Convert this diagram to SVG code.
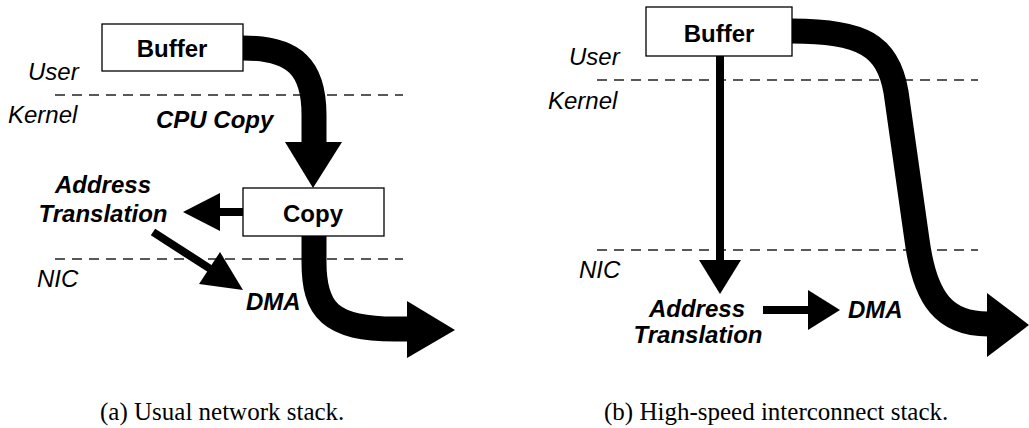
<svg xmlns="http://www.w3.org/2000/svg" width="1029" height="428" viewBox="0 0 1029 428">
<style>
.box{fill:#fff;stroke:#000;stroke-width:1.3}
.bl{font-family:"Liberation Sans",Arial,sans-serif;font-weight:bold;font-size:24px;text-anchor:middle;fill:#000}
.lay{font-family:"Liberation Sans",Arial,sans-serif;font-style:italic;font-size:24px;fill:#000}
.op{font-family:"Liberation Sans",Arial,sans-serif;font-style:italic;font-weight:bold;font-size:24px;fill:#000}
.dash{stroke:#222;stroke-width:1.3;stroke-dasharray:10 7;fill:none}
.thick{fill:none;stroke:#000;stroke-width:25}
.thin{fill:none;stroke:#000;stroke-width:8}
.head{fill:#000}
.cap{font-family:"Liberation Serif","Times New Roman",serif;font-size:25px;fill:#000}
</style>
<rect width="1029" height="428" fill="#fff"/>

<g id="layers">
<line class="dash" x1="55" y1="95" x2="403" y2="95"/>
<line class="dash" x1="55" y1="259" x2="403" y2="259"/>
<text class="lay" x="28" y="80">User</text>
<text class="lay" x="8" y="123">Kernel</text>
<text class="lay" x="37" y="287">NIC</text>
<line class="dash" x1="597" y1="80" x2="978" y2="80"/>
<line class="dash" x1="597" y1="250" x2="978" y2="250"/>
<text class="lay" x="569" y="65">User</text>
<text class="lay" x="548" y="109">Kernel</text>
<text class="lay" x="579" y="278">NIC</text>
</g>

<g id="connectors">
<path class="thick" d="M243,48 C295,48 314,68 314,115 L314,143"/>
<polygon class="head" points="285,142 342,142 313,188"/>
<line class="thin" x1="243" y1="212" x2="219" y2="212"/>
<polygon class="head" points="220,193 220,231 183,212"/>
<line class="thin" x1="153" y1="232" x2="212" y2="270"/>
<polygon class="head" points="199,284 220,252 243,290"/>
<path class="thick" d="M314,236 L314,262 C314,310 330,329 395,329 L408,329"/>
<polygon class="head" points="407,301 407,358 455,330"/>

<line class="thin" x1="720" y1="56" x2="720" y2="261"/>
<polygon class="head" points="699,260 741,260 720,294"/>
<line class="thin" x1="763" y1="310" x2="809" y2="310"/>
<polygon class="head" points="808,290 808,330 840,310"/>
<path class="thick" d="M792,31 C862,31 888,45 896,92 L917,240 C925,300 945,324 988,324"/>
<polygon class="head" points="987,293 987,357 1029,325"/>
</g>

<g id="buffer-a">
<rect class="box" x="102" y="24" width="141" height="47"/>
<text class="bl" x="172" y="57">Buffer</text>
</g>
<g id="copy-a">
<rect class="box" x="243" y="188" width="141" height="48"/>
<text class="bl" x="313" y="222">Copy</text>
</g>
<g id="cpucopy-a"><text class="op" x="156" y="128">CPU Copy</text></g>
<g id="addr-a">
<text class="op" x="103" y="193" text-anchor="middle">Address</text>
<text class="op" x="103" y="222" text-anchor="middle">Translation</text>
</g>
<g id="dma-a"><text class="op" x="246" y="310">DMA</text></g>

<g id="buffer-b">
<rect class="box" x="646" y="7" width="146" height="49"/>
<text class="bl" x="719" y="42">Buffer</text>
</g>
<g id="addr-b">
<text class="op" x="697" y="317" text-anchor="middle">Address</text>
<text class="op" x="698" y="343" text-anchor="middle">Translation</text>
</g>
<g id="dma-b"><text class="op" x="848" y="318">DMA</text></g>

<g id="captions">
<text class="cap" x="100" y="420">(a) Usual network stack.</text>
<text class="cap" x="604" y="420">(b) High-speed interconnect stack.</text>
</g>
</svg>
